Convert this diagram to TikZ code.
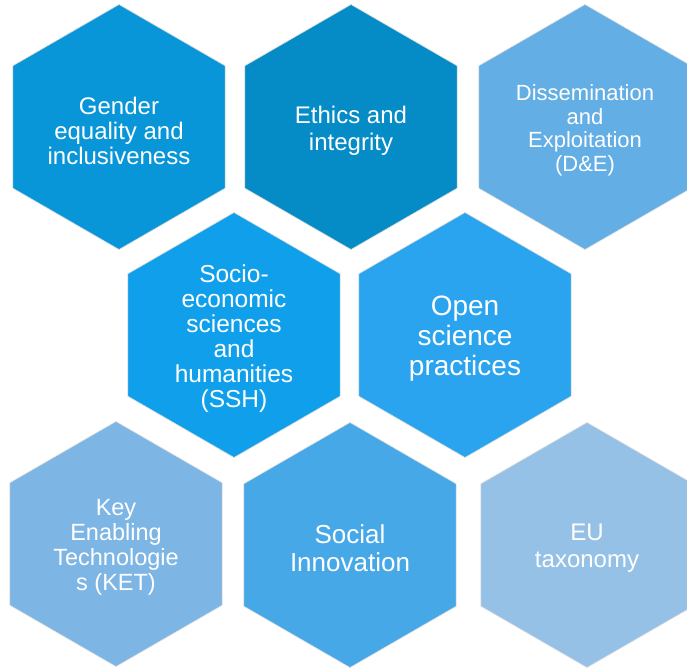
\documentclass[tikz,border=0pt]{standalone}
\usepackage{fontspec}
\setmainfont{Liberation Sans}
\usetikzlibrary{shapes.geometric}
\definecolor{cGender}{HTML}{0996D9}
\definecolor{cEthics}{HTML}{058BC6}
\definecolor{cDE}{HTML}{62AEE5}
\definecolor{cSSH}{HTML}{10A0EB}
\definecolor{cOpen}{HTML}{2AA4EF}
\definecolor{cKET}{HTML}{7DB5E4}
\definecolor{cSocial}{HTML}{47A8E8}
\definecolor{cEU}{HTML}{96C1E7}
\tikzset{
  hexa/.style={regular polygon, regular polygon sides=6, shape border rotate=30,
    minimum size=245pt, inner sep=0pt, outer sep=0pt,
    draw=black!13, line width=0.6pt},
  hextext/.style={text=white, align=center, inner sep=0pt, yshift=-3.5pt},
  fs/.style 2 args={font=\fontsize{#1}{#2}\selectfont}
}
\begin{document}
\begin{tikzpicture}[x=1pt,y=1pt]
\useasboundingbox[fill=white] (0,0) rectangle (687,-668);
\node[hexa, fill=cGender] (gender) at (119,-127) {};
\node[hexa, fill=cEthics] (ethics) at (351,-127) {};
\node[hexa, fill=cDE] (de) at (585,-127) {};
\node[hexa, fill=cSSH] (ssh) at (234,-335) {};
\node[hexa, fill=cOpen] (open) at (465,-335) {};
\node[hexa, fill=cKET] (ket) at (116,-544) {};
\node[hexa, fill=cSocial] (social) at (350,-545) {};
\node[hexa, fill=cEU] (eu) at (587,-545) {};
\node[hextext, fs={24}{25}] (tgender) at (gender.center) {Gender\\equality and\\inclusiveness};
\node[hextext, fs={24}{27}] (tethics) at (ethics.center) {Ethics and\\integrity};
\node[hextext, fs={22}{23.5}] (tde) at (de.center) {Dissemination\\and\\Exploitation\\(D\&E)};
\node[hextext, fs={24.5}{25}] (tssh) at (ssh.center) {Socio-\\economic\\sciences\\and\\humanities\\(SSH)};
\node[hextext, fs={28}{30}] (topen) at (open.center) {Open\\science\\practices};
\node[hextext, fs={23.5}{25}] (tket) at (ket.center) {Key\\Enabling\\Technologie\\s (KET)};
\node[hextext, fs={26}{28}] (tsocial) at (social.center) {Social\\Innovation};
\node[hextext, fs={24}{27}] (teu) at (eu.center) {EU\\taxonomy};
\end{tikzpicture}
\end{document}
